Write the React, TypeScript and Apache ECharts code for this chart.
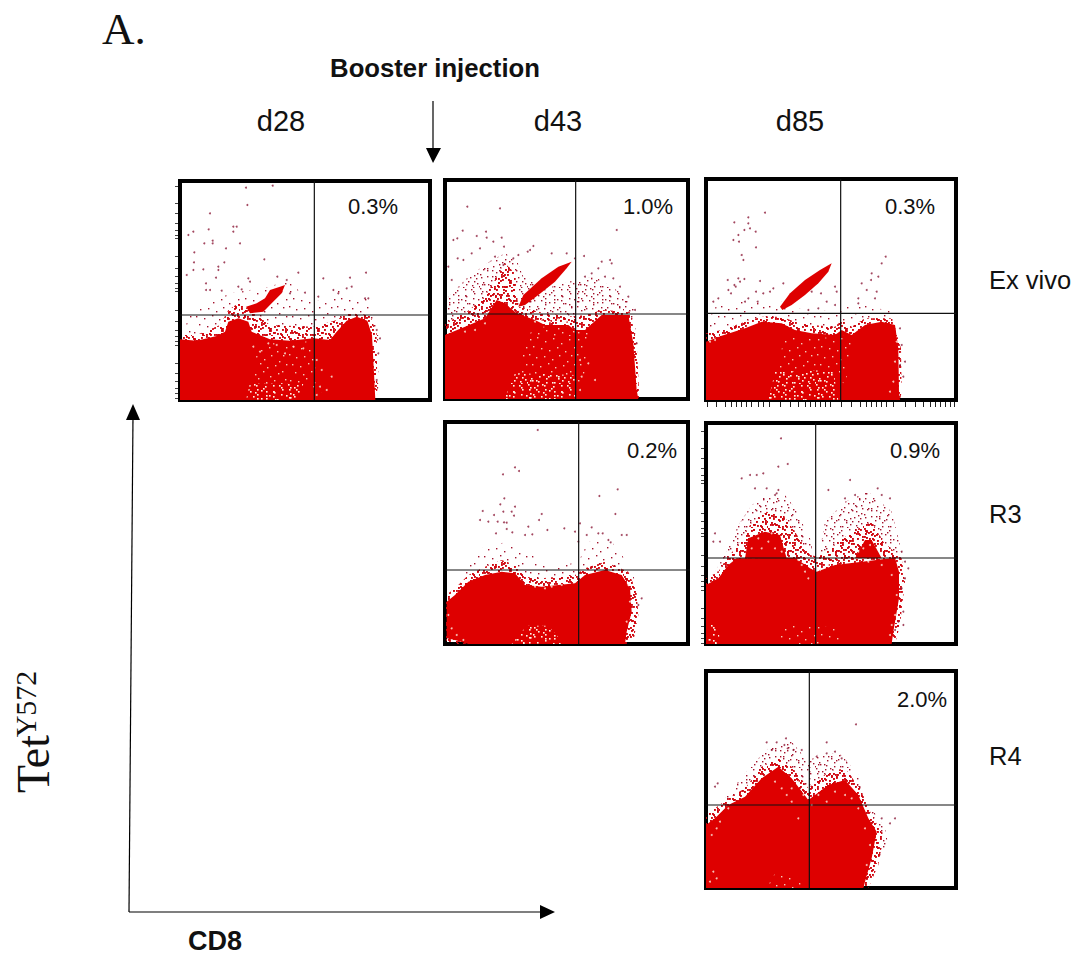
import React, { useEffect, useRef } from "react";
import * as echarts from "echarts";

type Pt = number[];

const columnLabels = ["d28", "d43", "d85"];
const rowLabels = ["Ex vivo", "R3", "R4"];
const percents = ["0.3%", "1.0%", "0.3%", "0.2%", "0.9%", "2.0%"];

// Channel readings, per panel: dense population outlines, thinner halo and fringe zones,
// lightly and heavily speckled zones inside the population, single events, gaps.
const d28ExMass: Pt[][] = [
  [[30,30],[30,212],[80,208],[140,222],[165,235],[175,265],[205,275],[235,265],[245,235],[300,212],[360,208],[430,215],[480,210],[500,235],[530,268],[560,280],[592,268],[606,225],[612,110],[616,30]],
  [[228,310],[260,320],[285,335],[300,360],[330,370],[345,375],[335,350],[305,320],[280,295],[240,290]],
];
const d28ExHalo: Pt[][] = [
  [[30,30],[30,225],[80,225],[150,255],[175,300],[205,320],[240,300],[300,255],[430,250],[500,270],[530,290],[600,285],[620,230],[622,60],[620,30]],
];
const d28ExFringe: Pt[][] = [
  [[35,210],[60,295],[120,320],[180,350],[300,370],[350,390],[430,320],[500,360],[600,330],[625,230],[625,60],[616,30],[35,30]],
];
const d28ExSpecks: Pt[][] = [[[245,75],[265,200],[360,200],[430,208],[440,60],[490,30],[400,75]]];
const d28ExHeavy: Pt[][] = [[[228,30],[240,80],[400,78],[385,30]]];
const d28ExEvents: Pt[] = [[228,667],[308,673],[232,615],[120,590],[116,542],[70,535],[55,525],[190,550],[200,550],[190,535],[103,500],[128,500],[128,508],[210,500],[168,485],[73,473],[283,452],[72,443],[163,443],[145,430],[145,420],[100,422],[70,420],[385,412],[588,412],[235,395],[322,400],[138,397],[50,405],[460,395],[540,397],[545,370],[530,365],[108,380],[108,360],[120,360],[155,358],[205,370],[215,362],[240,385],[350,390],[360,350],[405,352],[445,340],[490,360],[505,350],[595,335],[585,335],[620,240],[630,215],[620,90],[625,170]];
const d28ExGaps: Pt[] = [[250,190],[270,175],[295,200],[320,195],[345,170],[370,190],[400,185],[440,150],[455,120],[450,70],[470,60],[485,100],[440,45]];

const d43ExMass: Pt[][] = [
  [[30,33],[30,225],[90,250],[150,275],[185,330],[210,320],[245,290],[300,270],[330,255],[400,255],[420,240],[450,240],[500,285],[580,285],[595,200],[605,60],[610,33]],
  [[265,345],[320,395],[370,430],[410,445],[395,425],[360,385],[310,345],[270,315],[250,310]],
];
const d43ExHalo: Pt[][] = [
  [[30,33],[30,260],[90,290],[150,340],[185,400],[210,440],[240,410],[250,310],[330,290],[420,280],[470,290],[500,300],[585,295],[605,200],[612,60],[612,33]],
];
const d43ExFringe: Pt[][] = [
  [[35,225],[40,340],[100,400],[170,450],[210,470],[245,450],[265,400],[350,370],[420,390],[480,400],[560,350],[600,300],[605,70],[30,33]],
];
const d43ExSpecks: Pt[][] = [[[250,100],[270,210],[300,250],[410,250],[470,235],[440,60],[420,100]]];
const d43ExHeavy: Pt[][] = [[[208,33],[240,110],[420,105],[420,33]]];
const d43ExEvents: Pt[] = [[97,610],[195,605],[83,538],[67,515],[55,510],[125,522],[153,535],[155,517],[175,505],[200,517],[295,492],[278,475],[285,480],[207,490],[110,470],[135,485],[68,455],[85,450],[180,460],[205,435],[235,455],[250,465],[350,470],[395,470],[447,462],[420,455],[500,445],[525,450],[545,540],[530,440],[490,425],[450,400],[470,410],[510,400],[535,395],[555,370],[580,340],[600,300],[40,430],[50,390],[590,150],[600,100],[605,200]];
const d43ExGaps: Pt[] = [[320,270],[345,265],[370,272],[300,265],[395,265],[150,260],[120,240],[90,235],[435,150],[460,140],[440,100],[480,90],[435,60]];

const d85ExMass: Pt[][] = [
  [[33,15],[33,190],[80,208],[150,230],[200,250],[260,245],[300,225],[350,215],[420,210],[440,225],[470,210],[510,240],[560,250],[600,240],[610,170],[612,40],[615,15]],
  [[255,295],[285,335],[330,375],[375,405],[410,425],[400,400],[370,365],[330,330],[290,300],[262,285]],
];
const d85ExHalo: Pt[][] = [
  [[33,15],[33,215],[80,225],[150,250],[200,265],[260,265],[300,250],[350,240],[420,235],[440,255],[470,235],[510,260],[590,260],[618,170],[620,40],[615,15]],
];
const d85ExFringe: Pt[][] = [
  [[38,200],[50,290],[130,310],[260,310],[300,290],[430,280],[440,300],[510,300],[590,280],[615,190],[620,40],[615,15],[33,15]],
];
const d85ExSpecks: Pt[][] = [[[250,100],[265,200],[340,205],[430,200],[450,210],[480,210],[450,60],[415,100]]];
const d85ExHeavy: Pt[][] = [[[220,15],[240,100],[415,105],[430,15]]];
const d85ExEvents: Pt[] = [[210,577],[118,548],[160,563],[160,545],[148,525],[165,530],[182,520],[130,510],[115,495],[132,490],[183,473],[140,450],[145,435],[98,375],[130,380],[118,360],[135,370],[148,378],[195,372],[100,345],[108,335],[183,340],[265,365],[235,350],[225,340],[205,335],[160,320],[188,310],[150,310],[70,320],[55,310],[122,355],[420,355],[425,340],[420,300],[395,310],[350,340],[378,335],[340,285],[370,290],[560,425],[572,445],[530,395],[550,385],[528,375],[515,345],[500,365],[545,340],[490,320],[490,305],[540,320],[630,130],[615,120],[620,180],[625,85],[615,230]];
const d85ExGaps: Pt[] = [[600,130],[595,70],[585,40],[605,190],[45,190],[60,195]];

const d43R3Mass: Pt[][] = [
  [[35,50],[35,160],[60,180],[100,220],[150,240],[200,250],[240,245],[270,210],[320,205],[420,215],[450,240],[510,255],[560,240],[585,200],[590,130],[575,70],[570,33],[100,33],[60,45]],
];
const d43R3Halo: Pt[][] = [
  [[33,33],[33,180],[60,200],[100,240],[150,265],[200,285],[240,270],[270,235],[320,230],[420,240],[450,260],[510,280],[580,250],[605,190],[610,120],[595,40],[580,33]],
];
const d43R3Fringe: Pt[][] = [
  [[35,150],[100,270],[150,330],[230,340],[290,300],[350,260],[430,280],[460,340],[530,340],[590,260],[615,160],[600,40],[570,33],[60,35]],
];
const d43R3Specks: Pt[][] = [];
const d43R3Heavy: Pt[][] = [[[230,33],[275,88],[340,88],[388,33]]];
const d43R3Events: Pt[] = [[308,675],[240,563],[252,552],[204,542],[548,497],[493,477],[208,470],[196,452],[240,445],[143,432],[177,420],[205,430],[230,430],[320,423],[312,405],[237,418],[160,400],[188,400],[207,398],[215,397],[135,405],[215,378],[232,368],[270,360],[292,362],[280,385],[388,380],[337,375],[420,370],[183,365],[541,423],[470,383],[490,365],[503,365],[520,345],[527,338],[560,360],[575,360],[455,360],[430,340],[435,395],[620,170],[610,150]];
const d43R3Gaps: Pt[] = [[40,120],[50,80],[65,60],[85,45],[575,100],[585,160],[580,210],[300,205],[330,200],[380,210],[350,205]];

const d85R3Mass: Pt[][] = [
  [[33,33],[33,210],[70,230],[100,270],[125,290],[300,292],[345,260],[365,250],[420,270],[600,292],[612,250],[612,170],[595,70],[590,33]],
  [[150,290],[160,350],[210,370],[255,360],[275,290]],
  [[480,290],[510,345],[530,345],[560,290]],
];
const d85R3Halo: Pt[][] = [
  [[33,33],[33,230],[70,250],[95,290],[130,330],[165,390],[215,430],[265,420],[300,370],[345,300],[370,295],[420,330],[470,370],[530,400],[565,340],[620,290],[630,220],[615,90],[600,33]],
];
const d85R3Fringe: Pt[][] = [
  [[60,250],[100,320],[130,390],[170,450],[220,480],[270,480],[300,440],[350,340],[350,290]],
  [[370,290],[390,400],[450,460],[520,490],[590,430],[625,290]],
];
const d85R3Specks: Pt[][] = [[[250,33],[260,90],[340,90],[440,80],[440,33]]];
const d85R3Heavy: Pt[][] = [[[40,33],[40,90],[70,90],[75,33]]];
const d85R3Events: Pt[] = [[258,650],[278,573],[250,565],[185,540],[205,545],[140,530],[165,540],[465,525],[215,500],[245,485],[250,495],[240,480],[180,500],[400,495],[548,500],[560,480],[585,470],[480,480],[450,470],[620,310],[630,280],[640,260],[630,230],[620,200],[625,130],[610,100],[625,90],[600,75],[60,365],[75,340],[55,340]];
const d85R3Gaps: Pt[] = [[330,250],[340,230],[345,280],[320,270],[310,285],[375,255],[400,270],[440,280],[480,285],[520,280],[560,270],[590,240],[605,180],[600,120],[590,90],[585,60],[200,320],[220,340],[240,320],[190,350],[230,365],[505,320],[525,330],[170,320],[260,310],[490,310]];

const d85R4Mass: Pt[][] = [
  [[33,21],[33,210],[60,230],[100,270],[150,295],[200,350],[250,385],[290,350],[340,285],[400,330],[450,345],[490,300],[520,230],[545,190],[530,110],[510,40],[505,21]],
];
const d85R4Halo: Pt[][] = [
  [[33,21],[33,240],[60,260],[100,290],[150,320],[200,385],[250,410],[290,385],[340,320],[400,370],[450,380],[495,320],[530,240],[565,180],[550,90],[520,21]],
];
const d85R4Fringe: Pt[][] = [
  [[90,290],[170,390],[230,450],[290,460],[340,400],[380,430],[440,420],[490,360],[510,290],[570,200],[580,150],[530,60],[505,21],[90,21]],
];
const d85R4Specks: Pt[][] = [[[215,21],[240,65],[300,65],[325,21]]];
const d85R4Heavy: Pt[][] = [];
const d85R4Events: Pt[] = [[483,512],[273,470],[215,458],[245,458],[268,450],[395,458],[278,440],[295,435],[320,435],[230,435],[365,415],[395,425],[420,430],[440,410],[68,335],[60,325],[585,215],[600,230],[560,230]];
const d85R4Gaps: Pt[] = [[50,180],[65,200],[75,220],[100,260],[55,70],[45,40],[65,50],[310,230],[290,280],[325,300],[350,270],[370,300],[395,280],[420,310],[450,300],[470,290],[490,260],[510,200],[525,150],[515,90],[240,340],[260,320],[275,300],[310,340],[290,320]];

// Quadrant gates in channel units: [vertical, horizontal]
const gates: Pt[] = [[433,285],[422,288],[437,275],[431,255],[362,291],[343,270]];
const xTicksD85: number[] = [38,65,90,110,125,140,155,170,190,205,222,255,285,310,330,345,360,375,390,405,440,470,495,515,530,545,560,575,595,630,660,685,705,720,735,750,765,778];
const yTicksLog: number[] = [35,50,65,85,110,140,195,205,220,240,265,300,355,365,380,400,425,460,515,525,540,560,590,620,672];

// Dot texture cell, used for the thin zones
const textureDots: Pt[] = [[2,3],[9,1],[17,5],[25,2],[33,7],[41,3],[46,11],[5,10],[13,12],[21,14],[29,11],[37,15],[43,19],[1,18],[8,21],[16,20],[24,23],[31,19],[39,25],[46,28],[4,28],[12,30],[20,27],[27,31],[35,29],[42,35],[7,36],[15,38],[23,35],[30,40],[38,37],[45,43],[2,44],[10,45],[18,42],[26,46],[34,44],[41,47]];
const textureShifts: Pt[] = [[0,0,0],[1,5,3],[0,24,11],[1,17,29],[0,12,35],[1,31,19]];

const panels = [
  { grid: [180, 181, 250, 219], x: [30, 780], y: [30, 687], mass: d28ExMass, halo: d28ExHalo, fringe: d28ExFringe, specks: d28ExSpecks, heavy: d28ExHeavy, events: d28ExEvents, gaps: d28ExGaps, labelX: 373, labelY: 206, yTicks: yTicksLog, thin: "sparse" },
  { grid: [445, 180, 243, 219], x: [30, 759], y: [33, 690], mass: d43ExMass, halo: d43ExHalo, fringe: d43ExFringe, specks: d43ExSpecks, heavy: d43ExHeavy, events: d43ExEvents, gaps: d43ExGaps, labelX: 648, labelY: 206, thin: "medium" },
  { grid: [706, 179, 250, 221], x: [33, 783], y: [15, 678], mass: d85ExMass, halo: d85ExHalo, fringe: d85ExFringe, specks: d85ExSpecks, heavy: d85ExHeavy, events: d85ExEvents, gaps: d85ExGaps, labelX: 910, labelY: 206, xTicks: xTicksD85, thin: "sparse" },
  { grid: [445, 422, 243, 222], x: [30, 759], y: [33, 699], mass: d43R3Mass, halo: d43R3Halo, fringe: d43R3Fringe, specks: d43R3Specks, heavy: d43R3Heavy, events: d43R3Events, gaps: d43R3Gaps, labelX: 652, labelY: 450, gateEnd: 780, thin: "sparse" },
  { grid: [706, 423, 250, 221], x: [33, 783], y: [33, 696], mass: d85R3Mass, halo: d85R3Halo, fringe: d85R3Fringe, specks: d85R3Specks, heavy: d85R3Heavy, events: d85R3Events, gaps: d85R3Gaps, labelX: 915, labelY: 450, yTicks: yTicksLog, thin: "medium" },
  { grid: [706, 671, 250, 217], x: [33, 783], y: [21, 672], mass: d85R4Mass, halo: d85R4Halo, fringe: d85R4Fringe, specks: d85R4Specks, heavy: d85R4Heavy, events: d85R4Events, gaps: d85R4Gaps, labelX: 922, labelY: 699, thin: "medium" },
];

function dotPattern(color: string, copies: number, size: number) {
  const canvas = document.createElement("canvas");
  canvas.width = 48;
  canvas.height = 48;
  const ctx = canvas.getContext("2d")!;
  ctx.fillStyle = color;
  textureShifts.slice(0, copies).forEach(([swap, dx, dy]) => {
    textureDots.forEach(([a, b]) => {
      const px = swap ? b : a;
      const py = swap ? a : b;
      ctx.fillRect((px + dx) % 48, (py + dy) % 48, size, size);
    });
  });
  return { image: canvas, repeat: "repeat" };
}

function polygons(list: Pt[][], fill: any, xi: number, z: number) {
  return list.map((pts) => ({
    type: "custom",
    xAxisIndex: xi,
    yAxisIndex: xi,
    z,
    silent: true,
    data: [pts[0]],
    renderItem: (_: unknown, api: any) => ({
      type: "polygon",
      shape: { points: pts.map((p) => api.coord(p)) },
      style: { fill },
    }),
  }));
}

function buildOption() {
  const series: any[] = [];
  const grid: any[] = [];
  const xAxis: any[] = [];
  const yAxis: any[] = [];
  const graphic: any[] = [];
  const thinFill: any = {
    sparse: dotPattern("#a3122c", 1, 1.4),
    medium: dotPattern("#a3122c", 3, 1.4),
  };
  const dense = dotPattern("#d0060f", 6, 1.9);
  const whiteLight = dotPattern("#f7c9b8", 1, 1.4);
  const whiteHeavy = dotPattern("#fdf3e6", 3, 1.6);

  panels.forEach((p: any, i) => {
    grid.push({
      left: p.grid[0], top: p.grid[1], width: p.grid[2], height: p.grid[3],
      show: true, borderColor: "#000", borderWidth: 4, backgroundColor: "#fff", z: 1,
    });
    xAxis.push({
      type: "value", gridIndex: i, min: p.x[0], max: p.x[1], splitLine: { show: false },
      axisLine: { show: false }, axisLabel: { show: false },
      axisTick: p.xTicks
        ? { show: true, customValues: p.xTicks, length: 7, lineStyle: { color: "#222", width: 1 } }
        : { show: false },
    });
    yAxis.push({
      type: "value", gridIndex: i, min: p.y[0], max: p.y[1], splitLine: { show: false },
      axisLine: { show: false }, axisLabel: { show: false },
      axisTick: p.yTicks
        ? { show: true, customValues: p.yTicks, length: 5, lineStyle: { color: "#444", width: 1 } }
        : { show: false },
    });
    series.push(...polygons(p.fringe, thinFill[p.thin], i, 2));
    series.push(...polygons(p.halo, dense, i, 3));
    series.push({
      type: "scatter", xAxisIndex: i, yAxisIndex: i, z: 3, silent: true, data: p.events,
      symbolSize: 2, itemStyle: { color: "#8c1a38" },
    });
    series.push(...polygons(p.mass, "#de0000", i, 4));
    series.push(...polygons(p.specks, whiteLight, i, 5));
    series.push(...polygons(p.heavy, whiteHeavy, i, 5));
    series.push({
      type: "scatter", xAxisIndex: i, yAxisIndex: i, z: 5, silent: true, data: p.gaps,
      symbolSize: 2, itemStyle: { color: "#fbeee0" },
    });
    const [gx, gy] = gates[i];
    const lineBase = { type: "line", xAxisIndex: i, yAxisIndex: i, z: 6, silent: true, symbol: "none", clip: false, lineStyle: { color: "#111", width: 1.2 } };
    series.push({ ...lineBase, data: [[gx, p.y[0]], [gx, p.y[1]]] });
    series.push({ ...lineBase, data: [[p.x[0], gy], [p.gateEnd ?? p.x[1], gy]] });
    graphic.push({
      type: "text", x: p.labelX, y: p.labelY, z: 20,
      style: { text: percents[i], fill: "#111", font: "22px 'Liberation Sans', Arial", textAlign: "center", textVerticalAlign: "middle" },
    });
  });

  const sans = "'Liberation Sans', Arial";
  const serif = "'Liberation Serif', 'Times New Roman'";
  const txt = (text: string, x: number, y: number, font: string, extra: any = {}) => ({
    type: "text", x, y, z: 20, ...extra,
    style: { text, fill: "#111", font, textAlign: extra.align ?? "center", textVerticalAlign: "middle" },
  });
  graphic.push(txt("A.", 102, 29, `45px ${serif}`, { align: "left" }));
  graphic.push(txt("Booster injection", 435, 68, `bold 25.7px ${sans}`));
  columnLabels.forEach((c, i) => graphic.push(txt(c, [281, 558, 800][i], 121, `29px ${sans}`)));
  rowLabels.forEach((r, i) => graphic.push(txt(r, 989, [280, 514, 756][i], `25.5px ${sans}`, { align: "left" })));
  graphic.push(txt("CD8", 188, 941, `bold 27px ${sans}`, { align: "left" }));
  graphic.push(txt("Tet", 33, 764, `46px ${serif}`, { rotation: Math.PI / 2 }));
  graphic.push(txt("Y572", 25, 704, `30px ${serif}`, { rotation: Math.PI / 2 }));

  const arrow = (x1: number, y1: number, x2: number, y2: number, head: number[][]) => [
    { type: "line", z: 20, shape: { x1, y1, x2, y2 }, style: { stroke: "#000", lineWidth: 1.2 } },
    { type: "polygon", z: 20, shape: { points: head }, style: { fill: "#000" } },
  ];
  graphic.push(...arrow(433, 101, 433, 150, [[426, 148], [441, 148], [433, 163]]));
  graphic.push(...arrow(129, 912, 133, 415, [[126, 420], [140, 420], [133, 404]]));
  graphic.push(...arrow(129, 912, 545, 912, [[540, 905], [540, 919], [555, 912]]));

  return { animation: false, backgroundColor: "#fff", grid, xAxis, yAxis, series, graphic };
}

export default function App() {
  const ref = useRef<HTMLDivElement>(null);
  useEffect(() => {
    const chart = echarts.init(ref.current!, undefined, { renderer: "svg" });
    chart.setOption(buildOption());
    return () => chart.dispose();
  }, []);
  return <div ref={ref} style={{ position: "absolute", left: 0, top: 0, width: 1075, height: 955, overflow: "hidden" }} />;
}
